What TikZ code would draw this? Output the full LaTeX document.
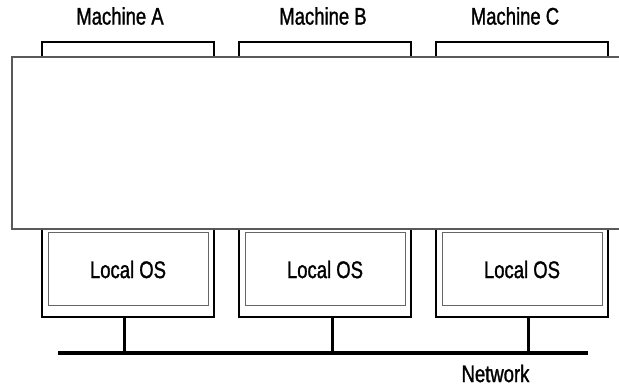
\documentclass[tikz,border=0pt]{standalone}
\usepackage{fontspec}
\setmainfont{Liberation Sans}[FakeStretch=0.77,FakeBold=1.2]
\begin{document}
\begin{tikzpicture}[x=1pt,y=-1pt,
  machine/.style={draw=black,line width=2pt,fill=white,
    minimum width=172pt,minimum height=275pt},
  localos/.style={draw=black!60,line width=1pt,fill=white,inner sep=0pt,
    minimum width=160pt,minimum height=73pt,
    font=\fontsize{24}{26}\selectfont},
  middleware/.style={draw=black!65,line width=1.2pt,fill=white},
  label/.style={inner sep=0pt,font=\fontsize{24}{26}\selectfont},
  wire/.style={draw=black,line width=3pt},
  bus/.style={draw=black,line width=4pt}]
  \useasboundingbox[fill=white] (0,0) rectangle (619,387);

  % machine cases
  \node[machine] (ma) at (128,179.5) {};
  \node[machine] (mb) at (325,179.5) {};
  \node[machine] (mc) at (522,179.5) {};

  % shared layer spanning all machines
  \draw[middleware] (625,57) -- (12,57) -- (12,229) -- (625,229);

  % local operating systems
  \node[localos] (osa) at (128,269.5) {Local OS};
  \node[localos] (osb) at (325,269.5) {Local OS};
  \node[localos] (osc) at (522,269.5) {Local OS};

  % machine names
  \node[label] (la) at (120,16) {Machine A};
  \node[label] (lb) at (323,16) {Machine B};
  \node[label] (lc) at (515,16) {Machine C};

  % network bus
  \coordinate (bl) at (58,353);
  \coordinate (br) at (588,353);
  \draw[bus] (bl) -- (br);
  \coordinate (ta) at (124,353);
  \coordinate (tb) at (332,353);
  \coordinate (tc) at (528,353);
  \draw[wire] (ma.south -| ta) -- (ta);
  \draw[wire] (mb.south -| tb) -- (tb);
  \draw[wire] (mc.south -| tc) -- (tc);
  \node[label] (net) at (495.5,373.5) {Network};
\end{tikzpicture}
\end{document}
